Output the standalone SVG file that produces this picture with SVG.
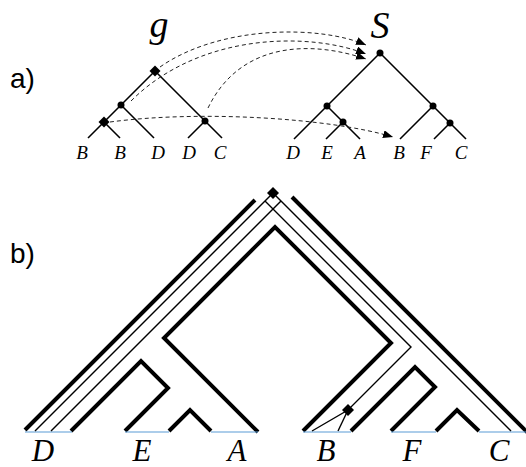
<svg xmlns="http://www.w3.org/2000/svg" width="526" height="467" viewBox="0 0 526 467">
<defs>
<marker id="arr" markerUnits="userSpaceOnUse" markerWidth="10" markerHeight="8" refX="10" refY="4" orient="auto"><path d="M0,0 L10,4 L0,8 z" fill="#000"/></marker>
</defs>
<style>
.lab{font-family:"Liberation Serif","Times New Roman",serif;font-style:italic;fill:#000;text-anchor:middle}
.sm{font-size:19px}
.bg{font-size:31px}
.panel{font-family:"Liberation Sans",Arial,sans-serif;font-size:28px;fill:#000}
.edge{stroke:#000;stroke-width:1.6;fill:none}
.dash{stroke:#222;stroke-width:1;fill:none;stroke-dasharray:4 3}
.thick{stroke:#000;stroke-width:4;fill:none;stroke-linejoin:miter}
.thin{stroke:#000;stroke-width:1.4;fill:none}
.base{stroke:#5b9bd5;stroke-width:1.2}
.dot{fill:#000}
</style>
<rect width="526" height="467" fill="#fff"/>
<text class="panel" x="10" y="88">a)</text>
<text class="panel" x="10" y="263">b)</text>
<text class="lab" x="159" y="37" font-size="38">g</text>
<text class="lab" x="380" y="38" font-size="38">S</text>

<g id="connectors">
<path class="edge" d="M155,71 L88,138"/>
<path class="edge" d="M104,122 L120,138"/>
<path class="edge" d="M121,105 L154,138"/>
<path class="edge" d="M155,71 L222,138"/>
<path class="edge" d="M205,121 L188,138"/>
<path class="edge" d="M380,53 L294,139"/>
<path class="edge" d="M327,106 L360,139"/>
<path class="edge" d="M343,122 L326,139"/>
<path class="edge" d="M380,53 L466,139"/>
<path class="edge" d="M433,106 L400,139"/>
<path class="edge" d="M450,123 L434,139"/>
<path class="dash" d="M160,67 C220,25 320,25 366,45" marker-end="url(#arr)"/>
<path class="dash" d="M131,101 C200,32 310,32 366,54" marker-end="url(#arr)"/>
<path class="dash" d="M208,108 C240,42 310,40 366,59" marker-end="url(#arr)"/>
<path class="dash" d="M110,122 C200,110 330,118 393,137" marker-end="url(#arr)"/>
</g>

<g id="g-root"><path class="dot" d="M155,65.5 L160.5,71 L155,76.5 L149.5,71 z"/></g>
<g id="g-n1"><circle class="dot" cx="121" cy="105" r="3.5"/></g>
<g id="g-dupBB"><path class="dot" d="M104,116.5 L109.5,122 L104,127.5 L98.5,122 z"/></g>
<g id="g-n3"><circle class="dot" cx="205" cy="121" r="3.5"/></g>
<g id="g-leaves">
<text class="lab sm" x="82" y="159">B</text>
<text class="lab sm" x="120" y="159">B</text>
<text class="lab sm" x="158" y="159">D</text>
<text class="lab sm" x="189" y="159">D</text>
<text class="lab sm" x="220" y="159">C</text>
</g>
<g id="s-root"><circle class="dot" cx="380" cy="53" r="3.5"/></g>
<g id="s-L"><circle class="dot" cx="327" cy="106" r="3.5"/></g>
<g id="s-LR"><circle class="dot" cx="343" cy="122" r="3.5"/></g>
<g id="s-R"><circle class="dot" cx="433" cy="106" r="3.5"/></g>
<g id="s-RR"><circle class="dot" cx="450" cy="123" r="3.5"/></g>
<g id="s-leaves">
<text class="lab sm" x="293" y="159">D</text>
<text class="lab sm" x="327" y="159">E</text>
<text class="lab sm" x="360" y="159">A</text>
<text class="lab sm" x="399" y="159">B</text>
<text class="lab sm" x="426" y="159">F</text>
<text class="lab sm" x="461" y="159">C</text>
</g>

<g id="b-tubes">
<path class="thick" d="M25,430 L255,200"/>
<path class="thick" d="M292,197 L530,435"/>
<path class="thick" d="M71,431 L141,361 L168,388 L125,431"/>
<path class="thick" d="M258,432 L164,338 L275,227 L391,343 L303,431"/>
<path class="thick" d="M169,431 L190,410 L211,431"/>
<path class="thick" d="M351,431 L415,367 L435,387 L391,431"/>
<path class="thick" d="M436,431 L457,410 L479,431"/>
</g>
<g id="b-bases">
<line class="base" x1="25" y1="432" x2="72" y2="432"/>
<line class="base" x1="125" y1="432" x2="169" y2="432"/>
<line class="base" x1="211" y1="432" x2="258" y2="432"/>
<line class="base" x1="303" y1="432" x2="351" y2="432"/>
<line class="base" x1="391" y1="432" x2="436" y2="432"/>
<line class="base" x1="479" y1="432" x2="526" y2="432"/>
</g>
<g id="b-gene">
<path class="thin" d="M273,193 L35,431"/>
<path class="thin" d="M273,193 L511,431"/>
<path class="thin" d="M265,201 L411,347 L348,410 L312,431"/>
<path class="thin" d="M348,410 L338,431"/>
<path class="thin" d="M281,201 L51,431"/>
</g>
<g id="b-dup-root"><path class="dot" d="M273,187 L279,193 L273,199 L267,193 z"/></g>
<g id="b-dup-B"><path class="dot" d="M348,404 L354,410 L348,416 L342,410 z"/></g>
<g id="b-leaves">
<text class="lab bg" x="43" y="461">D</text>
<text class="lab bg" x="142" y="461">E</text>
<text class="lab bg" x="237" y="461">A</text>
<text class="lab bg" x="326" y="461">B</text>
<text class="lab bg" x="412" y="461">F</text>
<text class="lab bg" x="499" y="461">C</text>
</g>
</svg>
